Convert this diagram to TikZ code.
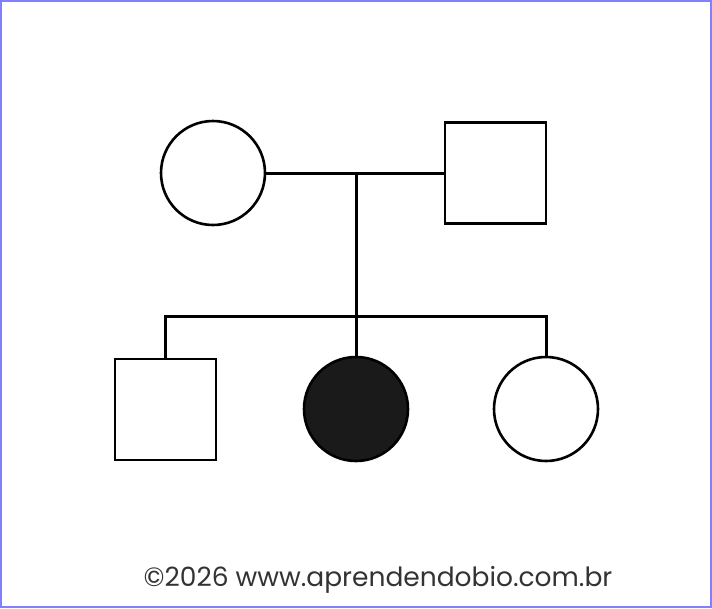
\documentclass[tikz,border=0pt]{standalone}
\usepackage{fontspec}
\setmainfont{Poppins}
\definecolor{frameblue}{HTML}{8080FF}
\definecolor{affected}{HTML}{1A1A1A}
\definecolor{webgray}{HTML}{333333}
\tikzset{
  female/.style={draw=black, line width=2.6pt, circle, minimum size=104pt, inner sep=0pt, fill=white},
  male/.style={draw=black, line width=2.6pt, rectangle, minimum size=101pt, inner sep=0pt, fill=white},
  link/.style={draw=black, line width=3pt}
}
\begin{document}
\begin{tikzpicture}[x=1pt, y=-1pt]
  \useasboundingbox (0,0) rectangle (712,608);
  \draw[frameblue, line width=2pt] (1,1) rectangle (711,607);
  % parents
  \node[female] (mother) at (213,173) {};
  \node[male] (father) at (495.5,173) {};
  \coordinate (couple) at (356,173);
  \coordinate (sibs) at (356,316);
  \draw[link] (mother.east) -- (father.west);
  \draw[link] (couple) -- (sibs);
  % children
  \node[male] (son) at (165.5,409.5) {};
  \node[female, fill=affected] (daughter) at (356,409) {};
  \node[female] (sister) at (546,409) {};
  \draw[link] (son.north) |- (sibs) -| (sister.north);
  \draw[link] (sibs) -- (daughter.north);
  \node[text=webgray, font=\fontsize{26.5}{30}\selectfont] (site) at (378,580) {©2026 www.aprendendobio.com.br};
\end{tikzpicture}
\end{document}
